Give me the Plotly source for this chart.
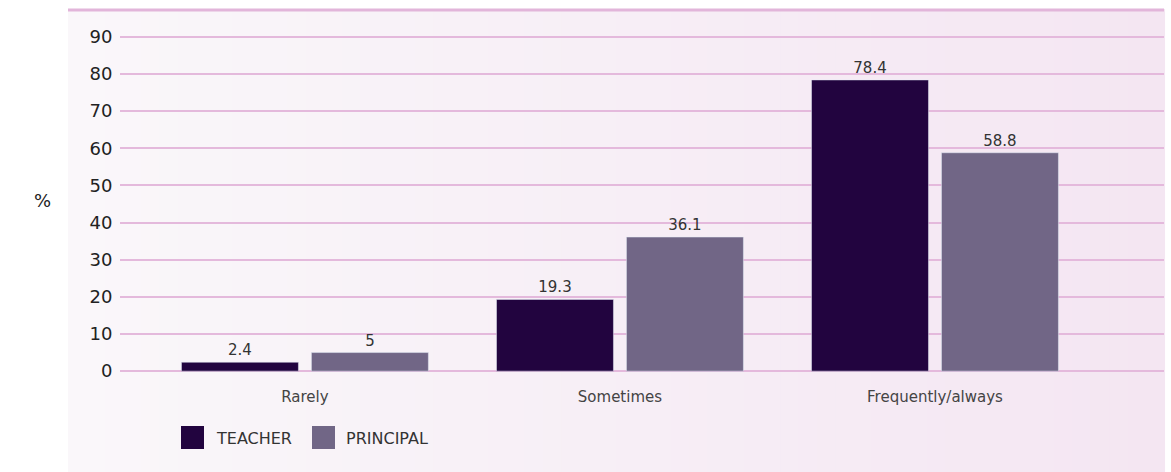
import plotly.graph_objects as go

categories = ["Rarely", "Sometimes", "Frequently/always"]
teacher = [2.4, 19.3, 78.4]
principal = [5, 36.1, 58.8]
series_names = ["TEACHER", "PRINCIPAL"]
y_ticks = [0, 10, 20, 30, 40, 50, 60, 70, 80, 90]

W, H = 1171, 472
ML, MR, MT, MB = 120, 7, 35, 99
PW, PH = W - ML - MR, H - MT - MB

def px_x(p):
    return (p - ML) / PW

def px_y(p):
    return (H - MB - p) / PH

FONT = "'DejaVu Sans', sans-serif"
C_TEACHER = "#22043f"
C_PRINCIPAL = "#716686"
GRID = "#e4b9dc"

fig = go.Figure()
fig.add_trace(go.Bar(x=categories, y=teacher, name=series_names[0], marker_color=C_TEACHER,
                     text=[f"{v:g}" for v in teacher], textposition="outside",
                     textfont=dict(size=15, color="#333333", family=FONT), cliponaxis=False))
fig.add_trace(go.Bar(x=categories, y=principal, name=series_names[1], marker_color=C_PRINCIPAL,
                     text=[f"{v:g}" for v in principal], textposition="outside",
                     textfont=dict(size=15, color="#333333", family=FONT), cliponaxis=False))

shapes = []
# gradient panel background
x0, x1 = px_x(68), px_x(1164)
y0, y1 = px_y(472), px_y(9)
n = 60
c0 = (250, 247, 250)
c1 = (244, 230, 242)
for i in range(n):
    t = i / (n - 1)
    col = tuple(round(a + (b - a) * t) for a, b in zip(c0, c1))
    xa = x0 + (x1 - x0) * i / n
    xb = x0 + (x1 - x0) * (i + 1) / n + 0.001
    shapes.append(dict(type="rect", xref="paper", yref="paper", x0=xa, x1=xb, y0=y0, y1=y1,
                       fillcolor=f"rgb{col}", line=dict(width=0), layer="below"))
shapes.append(dict(type="line", xref="paper", yref="paper", x0=x0, x1=x1, y0=px_y(10), y1=px_y(10),
                   line=dict(color="#e2b5da", width=3)))

# legend
annotations = []
legend_items = [(181, 214, C_TEACHER, series_names[0]), (312, 344, C_PRINCIPAL, series_names[1])]
for sq, tx, col, name in legend_items:
    shapes.append(dict(type="rect", xref="paper", yref="paper", x0=px_x(sq), x1=px_x(sq + 23),
                       y0=px_y(449), y1=px_y(426), fillcolor=col, line=dict(width=0)))
    annotations.append(dict(xref="paper", yref="paper", x=px_x(tx), y=px_y(438), text=name,
                            showarrow=False, xanchor="left", yanchor="middle",
                            font=dict(size=16, color="#333333", family=FONT)))
annotations.append(dict(xref="paper", yref="paper", x=px_x(42), y=px_y(200), text="%",
                        showarrow=False, xanchor="center", yanchor="middle",
                        font=dict(size=18, color="#222222", family=FONT)))

fig.update_layout(
    width=W, height=H,
    margin=dict(l=ML, r=MR, t=MT, b=MB),
    paper_bgcolor="white", plot_bgcolor="rgba(0,0,0,0)",
    barmode="group", bargap=0.175, bargroupgap=0.1,
    showlegend=False,
    shapes=shapes, annotations=annotations,
    font=dict(family=FONT),
)
fig.update_xaxes(range=[-0.587, 2.727], showgrid=False, showline=False, zeroline=False,
                 ticks="outside", ticklen=10, tickcolor="rgba(0,0,0,0)",
                 tickfont=dict(size=15, color="#444444", family=FONT))
fig.update_yaxes(range=[-0.5, 90.5], tickvals=y_ticks, showgrid=True, gridcolor=GRID, gridwidth=1.5,
                 zeroline=True, zerolinecolor=GRID, zerolinewidth=1.5, showline=False,
                 ticks="outside", ticklen=3, tickcolor="rgba(0,0,0,0)",
                 tickfont=dict(size=18, color="#222222", family=FONT))

fig.write_html("out.html")
